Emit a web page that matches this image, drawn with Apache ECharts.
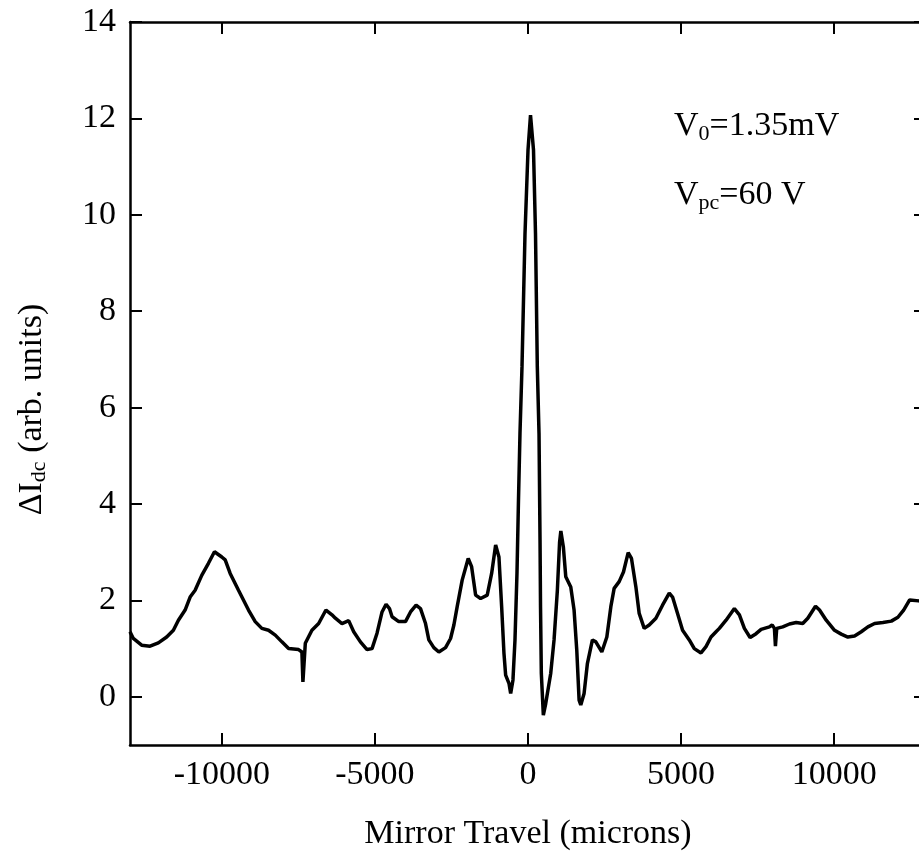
<!DOCTYPE html>
<html>
<head>
<meta charset="utf-8">
<script src="https://cdn.jsdelivr.net/npm/echarts@6/dist/echarts.min.js"></script>
<style>
html,body{margin:0;padding:0;background:#fff;}
#chart{width:919px;height:856px;}
</style>
</head>
<body>
<div id="chart"></div>
<script>
// Mirror travel (microns)
const travel = [
  -13000,-12892,-12620,-12345,-12074,-11802,-11583,-11419,-11200,-11036,
  -10873,-10657,-10438,-10241,-10002,-9891,-9728,-9456,-9129,-8910,
  -8694,-8474,-8255,-8039,-7820,-7493,-7385,-7352,-7274,-7058,
  -6838,-6600,-6403,-6292,-6076,-5857,-5693,-5474,-5258,-5094,
  -4931,-4767,-4636,-4525,-4440,-4221,-4002,-3838,-3655,-3511,
  -3347,-3239,-3076,-2912,-2693,-2529,-2421,-2313,-2150,-1953,
  -1842,-1711,-1548,-1332,-1188,-1057,-949,-861,-785,-730,
  -622,-566,-491,-425,-360,-311,-262,-196,-98,0,
  82,180,245,304,360,393,409,435,501,579,
  743,851,959,1031,1073,1155,1234,1397,1505,1593,
  1669,1724,1832,1940,2104,2215,2411,2575,2706,2814,
  2978,3118,3272,3380,3524,3632,3796,3959,4178,4394,
  4614,4722,4885,5049,5268,5432,5651,5814,5978,6142,
  6250,6469,6741,6905,7068,7254,7450,7614,7886,7975,
  8049,8082,8124,8321,8540,8759,8975,9139,9391,9522,
  9741,10012,10231,10447,10667,10886,11102,11321,11593,11868,
  12083,12270,12466,12761,13000
];
// Delta I_dc (arb. units)
const deltaIdc = [
  1.35,1.21,1.07,1.05,1.12,1.24,1.38,1.59,1.80,2.07,
  2.21,2.52,2.77,3.01,2.90,2.84,2.56,2.21,1.80,1.56,
  1.42,1.38,1.28,1.14,1.00,0.98,0.93,0.31,1.11,1.38,
  1.52,1.80,1.70,1.63,1.52,1.58,1.35,1.14,0.98,1.00,
  1.32,1.76,1.92,1.83,1.66,1.56,1.56,1.76,1.90,1.83,
  1.52,1.18,1.02,0.93,1.02,1.21,1.49,1.87,2.42,2.87,
  2.70,2.11,2.04,2.11,2.56,3.15,2.90,1.87,0.90,0.45,
  0.28,0.07,0.35,1.18,2.56,4.08,5.46,6.85,9.61,11.34,
  12.07,11.34,9.61,6.85,5.46,3.25,1.87,0.49,-0.38,-0.14,
  0.49,1.18,2.21,3.20,3.44,3.11,2.49,2.28,1.80,0.97,
  -0.07,-0.17,0.07,0.69,1.18,1.14,0.93,1.24,1.87,2.25,
  2.39,2.59,2.99,2.87,2.28,1.73,1.42,1.49,1.63,1.90,
  2.15,2.07,1.73,1.38,1.18,1.00,0.91,1.04,1.24,1.35,
  1.42,1.59,1.83,1.70,1.42,1.23,1.31,1.40,1.45,1.49,
  1.42,1.05,1.42,1.45,1.51,1.54,1.52,1.63,1.88,1.80,
  1.59,1.38,1.30,1.24,1.26,1.35,1.45,1.52,1.54,1.57,
  1.65,1.80,2.01,1.99,2.00
];
const xTicks = [-10000, -5000, 0, 5000, 10000];
const yTicks = [0, 2, 4, 6, 8, 10, 12, 14];
const xRange = [-13000, 13000];
const yRange = [-1, 14];

const FONT = '"Liberation Serif", "Times New Roman", serif';
const FS = 34;
const SUB = 22;

const chart = echarts.init(document.getElementById('chart'), null, {renderer: 'canvas'});
const data = travel.map((x, i) => [x, deltaIdc[i]]);

const axisLine = {show: true, onZero: false, lineStyle: {color: '#000', width: 2.5}};
const tickStyle = {color: '#000', width: 2};

chart.setOption({
  animation: false,
  backgroundColor: '#fff',
  grid: {left: 130, top: 22, width: 796, bottom: 111, containLabel: false, outerBoundsMode: 'none'},
  xAxis: [{
    type: 'value', min: xRange[0], max: xRange[1], position: 'bottom',
    axisLine: axisLine,
    axisTick: {show: true, inside: true, length: 12, lineStyle: tickStyle, customValues: xTicks},
    axisLabel: {customValues: xTicks, formatter: v => String(v), fontFamily: FONT, fontSize: FS, color: '#000', margin: 13},
    splitLine: {show: false},
    name: 'Mirror Travel (microns)', nameLocation: 'middle', nameGap: 72,
    nameTextStyle: {fontFamily: FONT, fontSize: FS, color: '#000'}
  }, {
    type: 'value', min: xRange[0], max: xRange[1], position: 'top',
    axisLine: axisLine,
    axisTick: {show: true, inside: true, length: 12, lineStyle: tickStyle, customValues: xTicks},
    axisLabel: {show: false},
    splitLine: {show: false}
  }],
  yAxis: [{
    type: 'value', min: yRange[0], max: yRange[1], position: 'left',
    axisLine: axisLine,
    axisTick: {show: true, inside: true, length: 12, lineStyle: tickStyle, customValues: yTicks},
    axisLabel: {customValues: yTicks, formatter: v => String(v), fontFamily: FONT, fontSize: FS, color: '#000', margin: 14},
    splitLine: {show: false},
    name: '{n|ΔI}{s|dc}{n| (arb. units)}', nameLocation: 'middle', nameGap: 77,
    nameTextStyle: {
      fontFamily: FONT, fontSize: FS, color: '#000', padding: [0, 52, 0, 0],
      rich: {
        n: {fontFamily: FONT, fontSize: FS, color: '#000', lineHeight: 42},
        s: {fontFamily: FONT, fontSize: SUB, color: '#000', lineHeight: 42, padding: [15, 0, 0, 0]}
      }
    }
  }, {
    type: 'value', min: yRange[0], max: yRange[1], position: 'right',
    axisLine: axisLine,
    axisTick: {show: true, inside: true, length: 12, lineStyle: tickStyle, customValues: yTicks},
    axisLabel: {show: false},
    splitLine: {show: false}
  }],
  graphic: [{
    type: 'text', left: 674, top: 108,
    style: {
      text: '{n|V}{s|0}{n|=1.35mV}',
      rich: {
        n: {fontFamily: FONT, fontSize: FS, fill: '#000', lineHeight: 38},
        s: {fontFamily: FONT, fontSize: SUB, fill: '#000', lineHeight: 38, padding: [15, 0, 0, 0]}
      }
    }
  }, {
    type: 'text', left: 674, top: 177,
    style: {
      text: '{n|V}{s|pc}{n|=60 V}',
      rich: {
        n: {fontFamily: FONT, fontSize: FS, fill: '#000', lineHeight: 38},
        s: {fontFamily: FONT, fontSize: SUB, fill: '#000', lineHeight: 38, padding: [15, 0, 0, 0]}
      }
    }
  }],
  series: [{
    type: 'line', xAxisIndex: 0, yAxisIndex: 0,
    data: data, showSymbol: false, smooth: false,
    lineStyle: {color: '#000', width: 3.5}
  }]
});
</script>
</body>
</html>
